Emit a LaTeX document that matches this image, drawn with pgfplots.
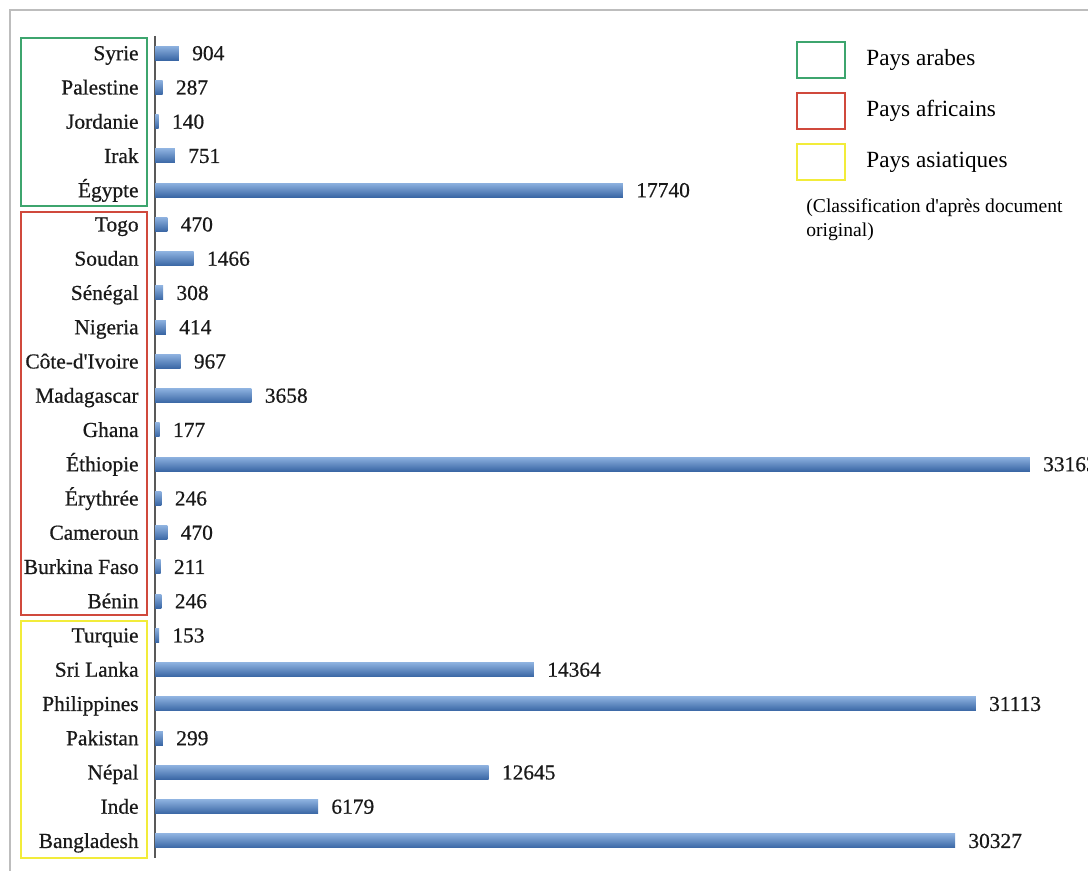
\documentclass[border=0pt]{standalone}
\usepackage{fontspec}
\setmainfont{Liberation Serif}
\newfontfamily\heavy{Liberation Serif}[FakeBold=0.6]
\usepackage{pgfplots}
\pgfplotsset{compat=1.18}
\definecolor{barTop}{HTML}{8DB1DF}
\definecolor{barMid}{HTML}{5284C2}
\definecolor{barBot}{HTML}{3A67A5}
\definecolor{grpGreen}{HTML}{3DA56E}
\definecolor{grpRed}{HTML}{D0493C}
\definecolor{grpYellow}{HTML}{F2EC3A}
\definecolor{frameGray}{HTML}{BDBDBD}
\pgfplotsset{mybar/.style={draw=none, top color=barTop, middle color=barMid, bottom color=barBot, bar shift=0pt}}
\begin{document}
\begin{tikzpicture}
\useasboundingbox (0,0) rectangle (544pt,-435.5pt);
\begin{scope}[x=0.5pt,y=-0.5pt]
  % outer frame (cut by page edge)
  \draw[frameGray, line width=0.8pt] (10,10) rectangle (1110,890);
  % group boxes
  \draw[grpGreen, line width=1pt] (21,38) rectangle (147,206);
  \draw[grpRed, line width=1pt] (21,212) rectangle (147,615);
  \draw[grpYellow, line width=1pt] (21,621) rectangle (147,858);
  % legend
  \draw[grpGreen, line width=1pt] (797,42) rectangle (845,78);
  \draw[grpRed, line width=1pt] (797,93) rectangle (845,129);
  \draw[grpYellow, line width=1pt] (797,144) rectangle (845,180);
  \node[anchor=west, inner sep=0pt, font=\fontsize{11.6}{13}\selectfont] at (866,60) {Pays arabes};
  \node[anchor=west, inner sep=0pt, font=\fontsize{11.6}{13}\selectfont] at (866,111) {Pays africains};
  \node[anchor=west, inner sep=0pt, font=\fontsize{11.6}{13}\selectfont] at (866,162) {Pays asiatiques};
  \node[anchor=west, inner sep=0pt, font=\fontsize{9.8}{11}\selectfont] at (806,208) {(Classification d\textquotesingle après document};
  \node[anchor=west, inner sep=0pt, font=\fontsize{9.8}{11}\selectfont] at (806,232) {original)};
\end{scope}
\begin{axis}[
  at={(77.5pt,-17.95pt)}, anchor=north west,
  scale only axis, width=466.5pt, height=411pt,
  xbar, bar width=7pt,
  xmin=0, xmax=35368,
  ymin=-0.5, ymax=23.5, y dir=reverse,
  axis x line=none, axis y line=left,
  axis line style={-, color=black!65, line width=0.6pt},
  ytick={0,...,23},
  yticklabels={Syrie,Palestine,Jordanie,Irak,Égypte,Togo,Soudan,Sénégal,Nigeria,Côte-d\textquotesingle Ivoire,Madagascar,Ghana,Éthiopie,Érythrée,Cameroun,Burkina Faso,Bénin,Turquie,Sri Lanka,Philippines,Pakistan,Népal,Inde,Bangladesh},
  major tick length=0pt,
  yticklabel style={anchor=base east, inner sep=0pt, xshift=-8pt, yshift=-3.6pt, font=\heavy\fontsize{10.7}{12}\selectfont, text=black!90},
  point meta=explicit symbolic,
  nodes near coords,
  every node near coord/.append style={anchor=base west, inner sep=0pt, xshift=6.5pt, yshift=-3.6pt, font=\heavy\fontsize{10.7}{12}\selectfont, text=black!90},
  clip=false,
]
\addplot[mybar] coordinates {(904,0)[904]};
\addplot[mybar] coordinates {(287,1)[287]};
\addplot[mybar] coordinates {(140,2)[140]};
\addplot[mybar] coordinates {(751,3)[751]};
\addplot[mybar] coordinates {(17740,4)[17740]};
\addplot[mybar] coordinates {(470,5)[470]};
\addplot[mybar] coordinates {(1466,6)[1466]};
\addplot[mybar] coordinates {(308,7)[308]};
\addplot[mybar] coordinates {(414,8)[414]};
\addplot[mybar] coordinates {(967,9)[967]};
\addplot[mybar] coordinates {(3658,10)[3658]};
\addplot[mybar] coordinates {(177,11)[177]};
\addplot[mybar] coordinates {(33163,12)[33163]};
\addplot[mybar] coordinates {(246,13)[246]};
\addplot[mybar] coordinates {(470,14)[470]};
\addplot[mybar] coordinates {(211,15)[211]};
\addplot[mybar] coordinates {(246,16)[246]};
\addplot[mybar] coordinates {(153,17)[153]};
\addplot[mybar] coordinates {(14364,18)[14364]};
\addplot[mybar] coordinates {(31113,19)[31113]};
\addplot[mybar] coordinates {(299,20)[299]};
\addplot[mybar] coordinates {(12645,21)[12645]};
\addplot[mybar] coordinates {(6179,22)[6179]};
\addplot[mybar] coordinates {(30327,23)[30327]};
\end{axis}
\end{tikzpicture}
\end{document}
